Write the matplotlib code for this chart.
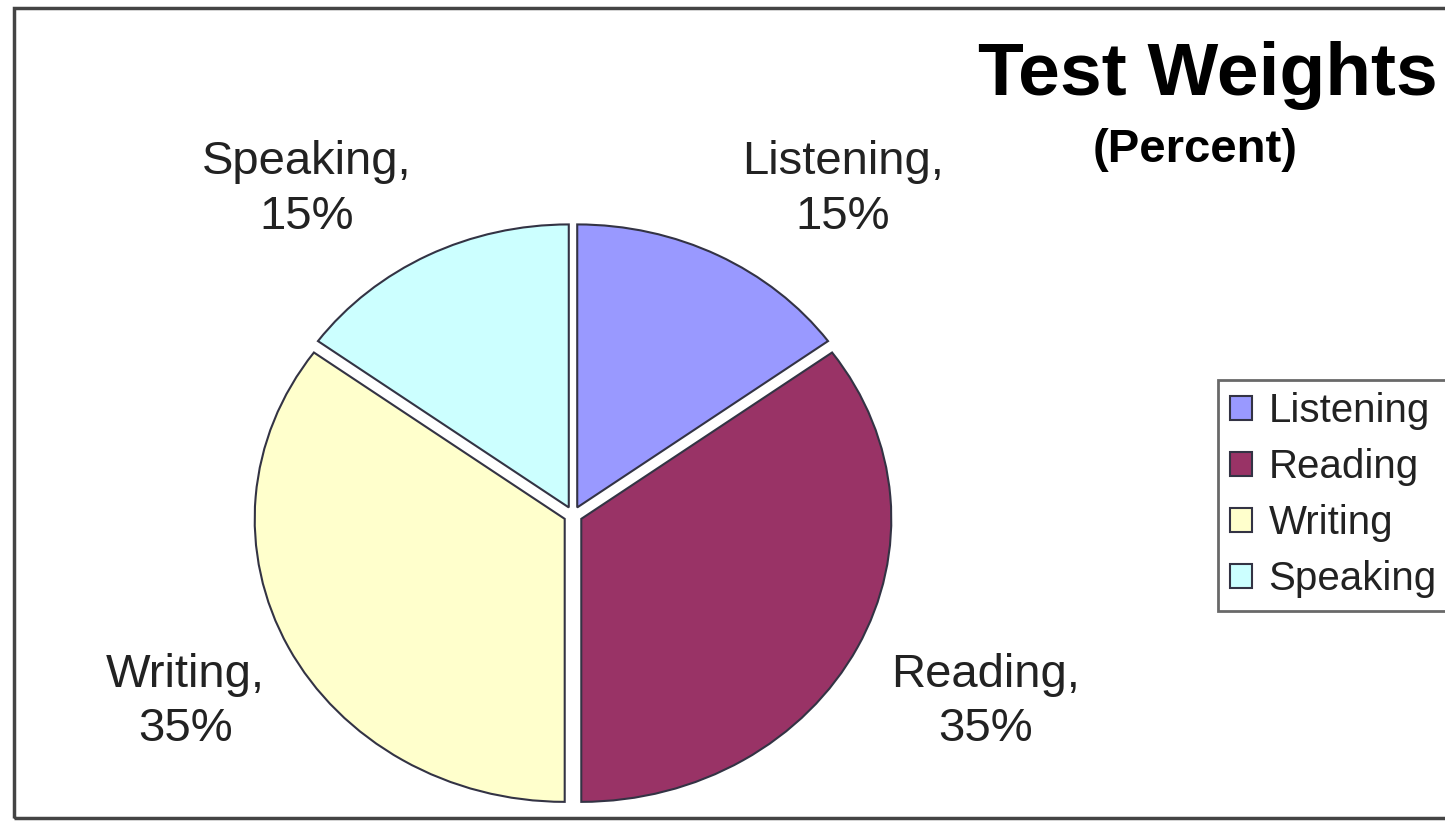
import matplotlib.pyplot as plt
from matplotlib.patches import Rectangle

# data
SKILLS = ["Listening", "Reading", "Writing", "Speaking"]
WEIGHTS = [15, 35, 35, 15]
COLORS = ["#9999FF", "#993366", "#FFFFCC", "#CCFFFF"]

# label anchor points (pie units, x radius = 1, y radius = 1)
LABEL_POS = [(0.87, 1.15), (1.33, -0.66), (-1.25, -0.66), (-0.86, 1.15)]

plt.rcParams["font.family"] = ["Liberation Sans", "DejaVu Sans"]

W, H = 1445, 821
fig = plt.figure(figsize=(W / 100, H / 100), dpi=100)

# pie centre / radii in pixels (image is slightly stretched horizontally)
cx, cy = 573, 515
rx, ry = 310, 283
span = 3.0
ax = fig.add_axes([
    (cx - span / 2 * rx) / W,
    1 - (cy + span / 2 * ry) / H,
    span * rx / W,
    span * ry / H,
])

wedges, _ = ax.pie(
    WEIGHTS,
    colors=COLORS,
    startangle=90,
    counterclock=False,
    explode=[0.03] * 4,
    wedgeprops=dict(edgecolor="#333344", linewidth=1.5),
)
ax.set_aspect("auto")
ax.set_xlim(-span / 2, span / 2)
ax.set_ylim(-span / 2, span / 2)
ax.axis("off")

for name, val, (lx, ly) in zip(SKILLS, WEIGHTS, LABEL_POS):
    ax.text(lx, ly, f"{name},\n{val}%", ha="center", va="center",
            fontsize=34, color="#222222", linespacing=1.3)

# title
fig.text(1208 / W, 1 - 75 / H, "Test Weights", ha="center", va="center",
         fontsize=54, fontweight="bold", color="black")
fig.text(1195 / W, 1 - 150 / H, "(Percent)", ha="center", va="center",
         fontsize=34, fontweight="bold", color="black")

# legend
leg = fig.legend(
    wedges, SKILLS,
    loc="upper left",
    bbox_to_anchor=(1218 / W, 1 - 380 / H),
    fontsize=29,
    frameon=True,
    fancybox=False,
    handlelength=0.55,
    handleheight=0.55,
    handletextpad=0.4,
    labelspacing=0.45,
    borderpad=0.3,
    borderaxespad=0,
)
leg.get_frame().set_edgecolor("#444444")
leg.get_frame().set_linewidth(2)
for t in leg.get_texts():
    t.set_color("#222222")

# outer chart border (right side runs off the image)
fig.patches.append(Rectangle((14 / W, 1 - 818 / H), 1.2, (818 - 8) / H,
                             transform=fig.transFigure, fill=False,
                             edgecolor="#444444", linewidth=2.5))

fig.savefig("out.png", dpi=100)
